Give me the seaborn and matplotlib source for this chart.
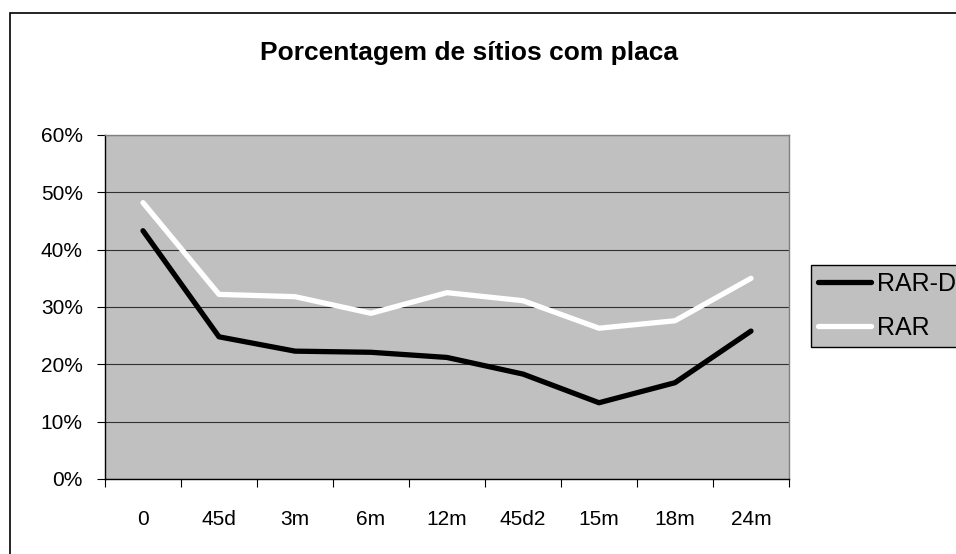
import numpy as np
import pandas as pd
import matplotlib
matplotlib.use("Agg")
import matplotlib.pyplot as plt
from matplotlib.ticker import PercentFormatter, FixedLocator
from matplotlib.patches import Rectangle
import seaborn as sns

# data
periodos = ["0", "45d", "3m", "6m", "12m", "45d2", "15m", "18m", "24m"]
rar_d = [0.433, 0.248, 0.223, 0.221, 0.212, 0.183, 0.133, 0.168, 0.258]
rar = [0.482, 0.322, 0.318, 0.289, 0.325, 0.311, 0.263, 0.276, 0.350]
series_names = ["RAR-D", "RAR"]
y_ticks = [0, 0.1, 0.2, 0.3, 0.4, 0.5, 0.6]

df = pd.DataFrame({
    "periodo": periodos * 2,
    "valor": rar_d + rar,
    "serie": [series_names[0]] * len(periodos) + [series_names[1]] * len(periodos),
})

sns.set_style("white")
plt.rcParams["font.family"] = ["Liberation Sans", "DejaVu Sans"]
plt.rcParams["text.color"] = "black"
plt.rcParams["xtick.color"] = "black"
plt.rcParams["ytick.color"] = "black"

fig = plt.figure(figsize=(9.56, 5.54), dpi=100)
ax = fig.add_axes([105 / 956, 75 / 554, 684 / 956, 344 / 554])
ax.set_facecolor("#c0c0c0")

sns.lineplot(data=df, x="periodo", y="valor", hue="serie", sort=False,
             palette={"RAR-D": "black", "RAR": "white"}, linewidth=3.8,
             ax=ax, solid_capstyle="round", solid_joinstyle="round", zorder=3)

ax.set_xlim(-0.5, len(periodos) - 0.5)
ax.set_ylim(0, 0.6)
ax.set_yticks(y_ticks)
ax.yaxis.set_major_formatter(PercentFormatter(1.0, decimals=0))
ax.set_xticks(range(len(periodos)))
ax.set_xticklabels(periodos)
ax.xaxis.set_minor_locator(FixedLocator(np.arange(-0.5, len(periodos), 1.0)))
ax.set_xlabel("")
ax.set_ylabel("")

ax.grid(axis="y", color="#303030", linewidth=0.8, zorder=1)
ax.set_axisbelow(True)
ax.tick_params(axis="x", which="major", length=0, pad=22, labelsize=15, labelcolor="black")
ax.tick_params(axis="x", which="minor", length=6, width=0.8, direction="out",
               color="black", bottom=True)
ax.tick_params(axis="y", length=6, width=0.8, direction="out", color="black",
               pad=10, labelsize=15, left=True, labelcolor="black")

for side in ["left", "bottom"]:
    ax.spines[side].set_color("black")
    ax.spines[side].set_linewidth(1.0)
for side in ["top", "right"]:
    ax.spines[side].set_color("#808080")
    ax.spines[side].set_linewidth(1.0)

fig.text(469 / 956, 1 - 53 / 554, "Porcentagem de sítios com placa", fontsize=19,
         fontweight="bold", ha="center", va="center", color="black")

ax.get_legend().remove()
handles, labels = ax.get_legend_handles_labels()
leg = fig.legend(handles, labels, loc="upper left",
                 bbox_to_anchor=(811 / 956, 1 - 265 / 554),
                 borderaxespad=0, fontsize=18, frameon=True, fancybox=False,
                 framealpha=1, facecolor="#c0c0c0", edgecolor="black",
                 handlelength=2.1, handletextpad=0.25, labelspacing=0.8,
                 borderpad=0.28)
leg.get_frame().set_linewidth(1.0)
for ln in leg.get_lines():
    ln.set_linewidth(3.8)
    ln.set_solid_capstyle("round")

# outer chart border (right and bottom edges fall outside the picture)
fig.patches.append(Rectangle((9.5 / 956, -0.2), 1.5, 1.2 - 13.5 / 554,
                             transform=fig.transFigure, fill=False,
                             edgecolor="black", linewidth=1.2))

fig.savefig("out.png", dpi=100)
